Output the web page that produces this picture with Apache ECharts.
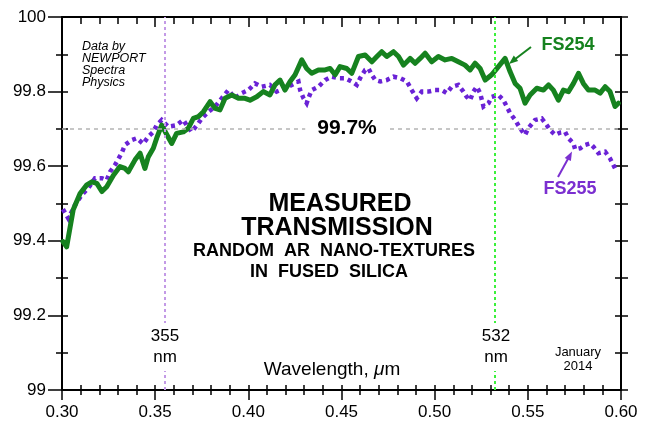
<!DOCTYPE html>
<html>
<head>
<meta charset="utf-8">
<title>Measured Transmission</title>
<script src="https://cdn.jsdelivr.net/npm/echarts@6/dist/echarts.min.js"></script>
<style>
  html, body { margin: 0; padding: 0; background: #fff; }
  #chart { width: 649px; height: 421px; }
</style>
</head>
<body>
<div id="chart"></div>
<script>
// Wavelength (µm) and transmission (%) for the two samples
const fs254Wavelength = [0.3005,0.3025,0.306,0.3097,0.3133,0.316,0.3187,0.3214,0.324,0.3276,0.3311,0.3338,0.3356,0.3392,0.3419,0.3445,0.3463,0.349,0.3508,0.3535,0.3562,0.3589,0.3615,0.3651,0.3678,0.3705,0.3732,0.3759,0.3795,0.3822,0.3848,0.3875,0.3911,0.3947,0.3982,0.4009,0.4045,0.408,0.4116,0.4143,0.417,0.4197,0.4224,0.4251,0.4287,0.4313,0.434,0.4376,0.4412,0.4439,0.4466,0.4492,0.4528,0.4555,0.4591,0.4627,0.4663,0.469,0.4716,0.4743,0.4779,0.4806,0.4833,0.4868,0.4895,0.4922,0.4949,0.4984,0.502,0.5056,0.5092,0.5127,0.5163,0.519,0.5217,0.5244,0.5271,0.5306,0.5342,0.5378,0.5405,0.5432,0.5458,0.5485,0.5512,0.5548,0.5584,0.5611,0.5637,0.5664,0.5691,0.5718,0.5745,0.5772,0.5798,0.5825,0.5861,0.5888,0.5915,0.5941,0.5968,0.5986];
const fs254Transmission = [99.398,99.384,99.483,99.527,99.550,99.558,99.554,99.532,99.545,99.576,99.599,99.594,99.585,99.617,99.635,99.594,99.625,99.648,99.675,99.710,99.685,99.661,99.688,99.692,99.702,99.728,99.733,99.746,99.773,99.755,99.751,99.782,99.791,99.782,99.782,99.777,99.786,99.800,99.791,99.818,99.831,99.804,99.827,99.845,99.885,99.862,99.849,99.858,99.858,99.862,99.845,99.867,99.862,99.849,99.894,99.898,99.880,99.894,99.907,99.894,99.907,99.894,99.871,99.889,99.876,99.889,99.903,99.880,99.894,99.885,99.889,99.880,99.871,99.858,99.876,99.862,99.831,99.845,99.867,99.889,99.853,99.822,99.809,99.769,99.791,99.809,99.804,99.818,99.804,99.777,99.804,99.800,99.822,99.849,99.822,99.804,99.804,99.796,99.813,99.800,99.760,99.769];

const fs255Wavelength = [0.3005,0.3034,0.307,0.3106,0.3141,0.3177,0.3214,0.324,0.3258,0.3284,0.332,0.3338,0.3374,0.3401,0.3436,0.3463,0.349,0.3508,0.3535,0.357,0.3615,0.3651,0.3669,0.3696,0.3732,0.375,0.3786,0.3822,0.3857,0.3893,0.3929,0.3965,0.4,0.4036,0.4072,0.4116,0.4152,0.4197,0.4233,0.4269,0.4278,0.4296,0.4313,0.4322,0.434,0.4376,0.4412,0.4448,0.4484,0.452,0.4555,0.4582,0.46,0.4627,0.4645,0.4663,0.4681,0.4708,0.4743,0.4779,0.4815,0.4851,0.4877,0.4904,0.4931,0.4967,0.5002,0.5038,0.5065,0.5092,0.5127,0.5154,0.5172,0.519,0.5208,0.5226,0.5244,0.5262,0.5289,0.5306,0.5342,0.5369,0.5387,0.5405,0.5432,0.5458,0.5485,0.5503,0.5539,0.5575,0.5602,0.5619,0.5646,0.5673,0.57,0.5718,0.5745,0.5754,0.5781,0.5807,0.5834,0.5852,0.5879,0.5915,0.5941,0.5959,0.5977];
const fs255Transmission = [99.485,99.460,99.496,99.523,99.541,99.568,99.568,99.563,99.585,99.603,99.635,99.657,99.670,99.675,99.660,99.679,99.692,99.710,99.724,99.706,99.710,99.724,99.710,99.692,99.715,99.728,99.746,99.760,99.782,99.804,99.782,99.796,99.804,99.822,99.813,99.818,99.800,99.809,99.818,99.827,99.804,99.782,99.769,99.782,99.804,99.813,99.831,99.840,99.836,99.836,99.827,99.818,99.836,99.858,99.862,99.845,99.831,99.827,99.831,99.840,99.836,99.827,99.804,99.782,99.800,99.800,99.804,99.804,99.796,99.813,99.818,99.800,99.786,99.777,99.800,99.813,99.796,99.760,99.769,99.786,99.791,99.777,99.760,99.742,99.724,99.702,99.684,99.702,99.724,99.728,99.710,99.697,99.684,99.690,99.692,99.675,99.661,99.645,99.648,99.657,99.661,99.652,99.635,99.639,99.621,99.603,99.585];

// Laser lines (µm) and the reference transmission level (%)
const laserLines = [0.355, 0.532];
const laserLabels = ['355\nnm', '532\nnm'];
const referenceLevel = 99.7;

const zip = (xs, ys) => xs.map((x, i) => [x, ys[i]]);

const FONT = '"Liberation Sans", Arial, Helvetica, sans-serif';
const GREEN = '#16821f';
const PURPLE = '#6a22d6';
const PURPLE_LABEL = '#7b2fd0';

const chart = echarts.init(document.getElementById('chart'), null, { renderer: 'canvas' });

const xBase = { type: 'value', min: 0.3, max: 0.6, interval: 0.05, splitLine: { show: false } };
const yBase = { type: 'value', min: 99, max: 100, splitLine: { show: false } };
const blackLine = { show: true, lineStyle: { color: '#000', width: 2 } };
const tickStyle = { color: '#000', width: 1.5 };

chart.setOption({
  animation: false,
  backgroundColor: '#fff',
  grid: { left: 62, right: 28, top: 17, bottom: 31 },
  xAxis: [
    Object.assign({}, xBase, {
      position: 'bottom',
      axisLine: blackLine,
      axisTick: { show: true, inside: false, length: 10, lineStyle: tickStyle },
      minorTick: { show: true, splitNumber: 5, length: 5, lineStyle: tickStyle },
      axisLabel: { show: true, margin: 14, fontSize: 17, color: '#000', fontFamily: FONT,
        formatter: v => v.toFixed(2) }
    }),
    Object.assign({}, xBase, {
      position: 'bottom',
      axisLine: { show: false },
      axisTick: { show: true, inside: true, length: 5, lineStyle: tickStyle },
      minorTick: { show: true, splitNumber: 5, length: 5, lineStyle: tickStyle },
      axisLabel: { show: false }
    }),
    Object.assign({}, xBase, {
      position: 'top',
      axisLine: blackLine,
      axisTick: { show: true, inside: true, length: 10, lineStyle: tickStyle },
      minorTick: { show: true, splitNumber: 5, length: 7, lineStyle: tickStyle },
      axisLabel: { show: false }
    })
  ],
  yAxis: [
    Object.assign({}, yBase, {
      position: 'left',
      interval: 0.2,
      axisLine: blackLine,
      axisTick: { show: true, inside: false, length: 14, lineStyle: tickStyle },
      minorTick: { show: true, splitNumber: 2, length: 6, lineStyle: tickStyle },
      axisLabel: { show: true, margin: 16, fontSize: 17, color: '#000', fontFamily: FONT,
        formatter: v => String(Math.round(v * 10) / 10) }
    }),
    Object.assign({}, yBase, {
      position: 'left',
      interval: 0.1,
      axisLine: { show: false },
      axisTick: { show: true, inside: true, length: 6, lineStyle: tickStyle },
      axisLabel: { show: false }
    }),
    Object.assign({}, yBase, {
      position: 'right',
      interval: 0.1,
      axisLine: blackLine,
      axisTick: { show: true, inside: false, length: 7, lineStyle: tickStyle },
      axisLabel: { show: false }
    }),
    Object.assign({}, yBase, {
      position: 'right',
      interval: 0.1,
      axisLine: { show: false },
      axisTick: { show: true, inside: true, length: 6, lineStyle: tickStyle },
      axisLabel: { show: false }
    })
  ],
  series: [
    {
      name: 'guides',
      type: 'line',
      data: [],
      silent: true,
      markLine: {
        silent: true,
        precision: 4,
        symbol: ['none', 'none'],
        label: { show: false },
        data: [
          { yAxis: referenceLevel, lineStyle: { color: '#b4b4b4', width: 1.5, type: [4, 4] } },
          { xAxis: laserLines[0], lineStyle: { color: '#c39ae6', width: 2, type: [3, 3] } },
          { xAxis: laserLines[1], lineStyle: { color: '#3cf03c', width: 2, type: [3, 3] } }
        ]
      }
    },
    {
      name: 'FS255',
      type: 'line',
      data: zip(fs255Wavelength, fs255Transmission),
      showSymbol: false,
      smooth: false,
      lineStyle: { color: PURPLE, width: 4.5, type: [4, 4], cap: 'butt', join: 'miter' },
      z: 3
    },
    {
      name: 'FS254',
      type: 'line',
      data: zip(fs254Wavelength, fs254Transmission),
      showSymbol: false,
      smooth: false,
      lineStyle: { color: GREEN, width: 5, cap: 'round', join: 'round' },
      z: 4
    }
  ],
  graphic: [
    // data source note
    { type: 'text', x: 82, y: 41, z: 100,
      style: { text: 'Data by\nNEWPORT\nSpectra\nPhysics', font: 'italic 12.5px ' + FONT,
        fill: '#000', lineHeight: 12, align: 'left', verticalAlign: 'top' } },
    // reference level label
    { type: 'text', x: 347, y: 128, z: 100,
      style: { text: '99.7%', font: 'bold 21px ' + FONT, fill: '#000',
        align: 'center', verticalAlign: 'middle', backgroundColor: '#fff', padding: [1, 12] } },
    // title block
    { type: 'text', x: 340, y: 204, z: 100,
      style: { text: 'MEASURED', font: 'bold 25px ' + FONT, fill: '#000', align: 'center', verticalAlign: 'middle' } },
    { type: 'text', x: 337, y: 228, z: 100,
      style: { text: 'TRANSMISSION', font: 'bold 25px ' + FONT, fill: '#000', align: 'center', verticalAlign: 'middle' } },
    { type: 'text', x: 334, y: 251, z: 100,
      style: { text: 'RANDOM  AR  NANO-TEXTURES', font: 'bold 18px ' + FONT, fill: '#000', align: 'center', verticalAlign: 'middle' } },
    { type: 'text', x: 329, y: 272.5, z: 100,
      style: { text: 'IN  FUSED  SILICA', font: 'bold 18px ' + FONT, fill: '#000', align: 'center', verticalAlign: 'middle' } },
    // laser line labels
    { type: 'text', x: 165, y: 347, z: 100,
      style: { text: laserLabels[0], font: '17px ' + FONT, fill: '#000', lineHeight: 21,
        align: 'center', verticalAlign: 'middle', backgroundColor: '#fff', padding: [3, 2] } },
    { type: 'text', x: 496, y: 347, z: 100,
      style: { text: laserLabels[1], font: '17px ' + FONT, fill: '#000', lineHeight: 21,
        align: 'center', verticalAlign: 'middle', backgroundColor: '#fff', padding: [3, 2] } },
    // axis title
    { type: 'text', x: 332, y: 370, z: 100,
      style: { text: '{a|Wavelength, }{b|μ}{a|m}', align: 'center', verticalAlign: 'middle',
        rich: {
          a: { font: '19px ' + FONT, fill: '#000' },
          b: { font: 'italic 19px ' + FONT, fill: '#000' }
        } } },
    // date
    { type: 'text', x: 578, y: 359, z: 100,
      style: { text: 'January\n2014', font: '13px ' + FONT, fill: '#000', lineHeight: 14,
        align: 'center', verticalAlign: 'middle' } },
    // series labels with arrows
    { type: 'text', x: 568, y: 45, z: 100,
      style: { text: 'FS254', font: 'bold 18px ' + FONT, fill: GREEN, align: 'center', verticalAlign: 'middle' } },
    { type: 'line', z: 100, shape: { x1: 531, y1: 47, x2: 514, y2: 60 },
      style: { stroke: GREEN, lineWidth: 2 } },
    { type: 'polygon', z: 100, shape: { points: [[509, 64], [518.2, 61.0], [513.8, 55.6]] },
      style: { fill: GREEN } },
    { type: 'text', x: 570, y: 189, z: 100,
      style: { text: 'FS255', font: 'bold 18px ' + FONT, fill: PURPLE_LABEL, align: 'center', verticalAlign: 'middle' } },
    { type: 'line', z: 100, shape: { x1: 558, y1: 177, x2: 569, y2: 157 },
      style: { stroke: PURPLE_LABEL, lineWidth: 2 } },
    { type: 'polygon', z: 100, shape: { points: [[572, 151.5], [570.9, 161.1], [564.7, 157.9]] },
      style: { fill: PURPLE_LABEL } }
  ]
});
</script>
</body>
</html>
